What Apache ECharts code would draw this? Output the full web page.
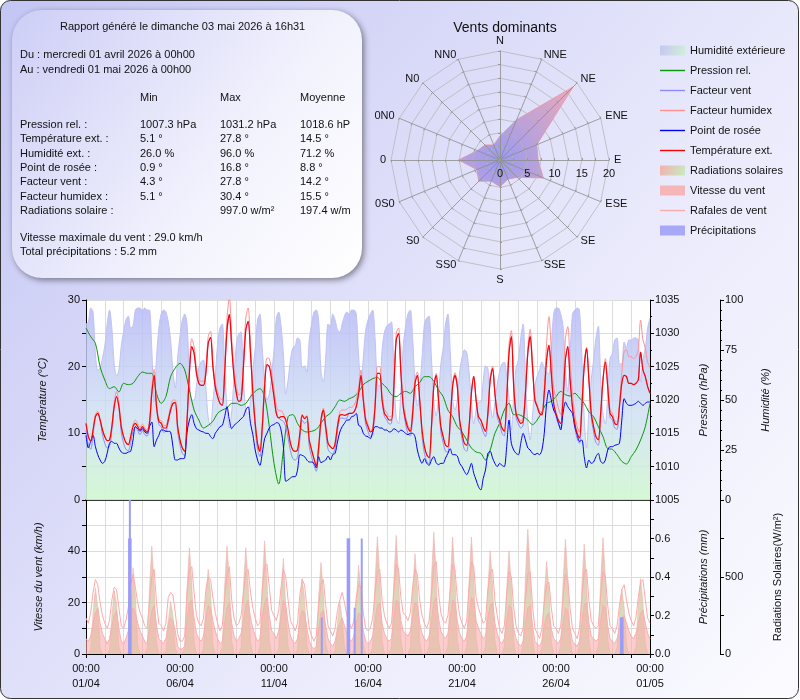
<!DOCTYPE html>
<html>
<head>
<meta charset="utf-8">
<script src="https://cdn.jsdelivr.net/npm/echarts/dist/echarts.min.js"></script>
<style>
html, body { margin: 0; padding: 0; background: #fff; }
#main { width: 800px; height: 700px; }
</style>
</head>
<body>
<div id="main"></div>
<script>
// relevés toutes les 3 h (pression toutes les 6 h), du 01/04 00h00 au 01/05 00h00
var STEP = 3;
var STEP_P = 6;

var temperature = [
  11.5,9.5,8.8,10.5,12.5,13.0,12.0,10.5,
  9.5,8.9,9.0,11.0,14.0,15.5,14.0,11.0,
  9.5,8.6,8.3,9.5,11.0,11.5,11.0,10.5,
  11.0,10.5,10.2,11.5,16.0,18.7,14.0,11.8,
  11.5,10.8,10.8,12.0,13.5,14.5,14.6,11.0,
  9.0,7.8,7.3,12.0,19.0,23.0,22.0,19.0,
  17.5,17.2,17.2,19.0,23.5,24.4,20.0,17.0,
  15.5,14.5,14.2,19.0,25.5,27.8,23.0,18.5,
  16.0,14.8,15.0,20.0,25.5,26.8,22.0,16.0,
  11.5,8.5,7.3,11.0,17.0,20.3,20.0,18.0,
  15.5,13.0,12.3,12.5,12.5,12.0,10.5,8.5,
  7.5,7.3,7.5,10.0,12.7,12.2,12.5,9.0,
  7.5,6.2,5.1,8.0,12.0,13.5,11.0,8.5,
  8.0,7.7,8.5,11.0,12.7,12.8,12.7,12.8,
  13.0,13.0,13.2,14.0,16.0,18.7,15.0,12.0,
  11.0,10.2,10.5,14.0,19.0,19.0,15.0,13.0,
  12.5,12.0,12.0,17.0,24.0,25.0,19.0,14.0,
  12.0,10.8,10.3,13.0,17.5,18.7,15.0,10.5,
  8.0,6.8,6.3,11.0,17.0,18.7,15.0,11.0,
  9.5,8.2,8.0,12.0,17.0,18.7,17.0,12.0,
  10.0,8.5,8.2,11.0,16.0,18.5,15.0,12.5,
  12.0,11.0,10.3,13.0,18.0,19.7,16.0,13.0,
  12.0,10.8,10.3,15.0,22.0,24.5,17.0,13.0,
  12.0,11.5,11.8,16.0,22.0,24.5,20.0,15.0,
  14.0,13.0,12.8,16.0,21.0,23.2,19.0,14.5,
  13.0,12.0,11.5,15.0,21.0,23.0,18.0,14.0,
  11.5,10.0,9.3,14.0,20.0,22.7,18.0,13.0,
  11.0,9.5,9.0,13.0,18.0,20.7,17.0,13.0,
  12.5,11.5,11.3,14.0,17.5,18.7,18.5,17.5,
  17.5,17.3,17.5,18.0,22.2,19.5,18.5,17.0,
  16.0
];

var humidex = [
  11.5,9.5,8.8,10.5,12.8,13.3,12.2,10.5,
  9.5,8.9,9.0,11.2,14.6,16.3,14.6,11.2,
  9.5,8.6,8.3,9.5,11.3,12.0,11.5,10.9,
  11.4,10.8,10.5,11.9,16.8,19.6,14.6,12.0,
  11.9,11.2,11.2,12.4,14.0,15.0,15.0,11.2,
  9.0,7.8,7.3,12.3,20.0,24.2,23.0,19.8,
  18.2,17.8,17.8,19.8,24.5,25.3,20.8,17.7,
  16.3,15.3,15.0,20.2,27.2,30.4,24.3,19.5,
  17.0,15.8,16.0,21.3,27.3,28.8,23.2,16.8,
  11.8,8.5,7.3,11.2,17.8,21.3,21.2,19.2,
  16.6,14.2,13.4,13.4,12.9,12.0,10.5,8.5,
  7.5,7.3,7.5,10.0,12.9,12.4,12.7,9.0,
  7.5,6.2,5.1,8.0,12.2,13.8,11.2,8.5,
  8.0,7.7,8.5,11.2,13.2,13.5,13.5,13.6,
  13.9,13.9,14.2,15.0,16.8,19.5,15.7,12.4,
  11.3,10.4,10.8,14.7,20.0,20.0,15.7,13.6,
  13.1,12.5,12.5,17.8,25.0,25.8,19.9,14.7,
  12.5,11.2,10.6,13.6,18.2,19.2,15.2,10.5,
  8.0,6.8,6.3,11.0,17.4,19.0,15.2,11.0,
  9.5,8.2,8.0,12.2,17.4,19.1,17.4,12.1,
  10.0,8.5,8.2,11.0,16.2,18.6,15.0,12.5,
  12.0,11.0,10.3,13.2,18.4,20.1,16.3,13.2,
  12.2,10.8,10.3,15.4,23.3,25.4,17.5,13.2,
  12.3,11.9,12.3,16.6,22.7,25.6,20.6,15.3,
  14.3,13.3,13.2,16.8,23.5,27.5,22.5,16.8,
  15.3,13.8,12.8,16.8,24.2,26.0,20.8,15.9,
  12.8,11.0,10.2,14.8,20.5,22.9,18.4,13.2,
  11.0,9.5,9.0,13.2,18.3,21.2,17.6,13.5,
  13.0,11.9,11.7,14.6,19.0,22.3,22.5,21.5,
  21.5,21.2,21.5,22.5,27.0,24.0,22.8,20.7,
  19.8
];

var windChill = [
  10.5,8.3,7.6,9.8,12.5,13.0,12.0,9.8,
  8.5,7.8,8.0,10.4,14.0,15.5,14.0,10.2,
  8.5,7.6,7.4,8.6,10.3,11.0,10.4,9.8,
  10.4,9.8,9.6,11.0,16.0,18.7,14.0,11.3,
  11.0,10.2,10.3,11.6,13.5,14.5,14.6,10.3,
  8.2,7.0,6.6,11.6,19.0,23.0,22.0,19.0,
  17.5,17.2,17.2,19.0,23.5,24.4,20.0,17.0,
  15.5,14.5,14.2,19.0,25.5,27.8,23.0,18.5,
  16.0,14.8,15.0,20.0,25.5,26.8,22.0,16.0,
  10.8,7.6,6.5,10.4,17.0,20.3,20.0,18.0,
  15.5,13.0,12.3,12.0,11.8,11.0,9.3,7.4,
  6.2,6.0,6.4,9.0,12.0,11.5,11.8,8.0,
  6.5,5.2,4.3,7.2,11.5,13.5,10.4,7.6,
  7.1,6.9,7.8,10.4,12.2,12.3,12.2,12.3,
  13.0,13.0,13.2,14.0,16.0,18.7,15.0,11.4,
  10.3,9.5,9.8,14.0,19.0,19.0,15.0,12.5,
  12.0,11.4,11.5,17.0,24.0,25.0,19.0,14.0,
  11.4,10.0,9.6,12.6,17.5,18.7,15.0,9.6,
  7.0,5.8,5.4,10.4,17.0,18.7,15.0,10.2,
  8.6,7.3,7.2,11.5,17.0,18.7,17.0,11.4,
  9.2,7.6,7.3,10.3,16.0,18.5,15.0,11.9,
  11.3,10.2,9.5,12.5,18.0,19.7,16.0,12.4,
  11.4,10.0,9.6,15.0,22.0,24.5,17.0,12.4,
  11.4,10.8,11.2,16.0,22.0,24.5,20.0,15.0,
  14.0,13.0,12.8,16.0,21.0,23.2,19.0,14.5,
  12.5,11.4,10.8,15.0,21.0,23.0,18.0,13.6,
  10.8,9.2,8.5,13.6,20.0,22.7,18.0,12.4,
  10.2,8.6,8.2,12.5,18.0,20.7,17.0,12.4,
  12.0,10.8,10.6,14.0,17.5,18.7,18.5,17.5,
  17.5,17.3,17.5,18.0,22.2,19.5,18.5,17.0,
  16.0
];

var dewPoint = [
  9.7,7.8,8.8,9.7,8.0,6.8,6.0,5.5,
  5.8,7.0,8.5,8.8,8.5,8.5,7.8,7.2,
  7.0,7.0,7.2,7.3,9.0,11.0,10.7,10.3,
  10.7,10.2,10.0,11.0,11.7,8.0,9.0,9.7,
  10.5,10.5,10.3,10.3,10.2,8.0,6.0,6.0,
  6.2,6.2,6.3,10.2,12.0,12.8,11.5,10.7,
  10.5,10.3,10.2,10.0,10.0,9.5,9.2,10.0,
  10.5,11.0,11.2,12.5,14.0,12.0,10.7,11.2,
  11.5,11.8,12.2,12.5,13.5,14.0,11.5,9.8,
  7.5,6.0,5.2,7.0,9.2,10.0,10.8,11.2,
  11.3,11.6,11.5,10.5,8.0,2.8,3.0,3.3,
  3.5,3.5,4.5,6.8,6.7,6.5,6.0,5.7,
  5.7,5.5,4.8,6.5,5.6,5.8,6.0,6.6,
  6.0,6.8,7.0,8.7,10.2,11.0,11.5,12.0,
  12.0,12.5,12.6,13.0,11.2,11.0,10.0,9.6,
  9.5,9.2,10.2,11.0,11.0,10.8,10.8,10.5,
  10.5,10.2,10.3,10.7,10.5,10.2,10.5,10.3,
  10.0,9.8,10.0,10.0,9.5,7.5,6.2,5.5,
  6.2,5.5,5.2,6.0,6.5,5.6,5.3,5.5,
  5.5,6.3,7.0,7.7,6.8,6.8,6.6,5.5,
  5.0,4.3,3.8,4.5,5.5,4.0,3.0,2.0,
  1.5,3.2,4.5,7.0,7.3,6.3,5.5,5.0,
  5.5,5.2,5.0,8.0,12.0,8.5,7.5,7.0,
  6.8,8.5,10.0,9.0,7.8,7.5,7.0,6.8,
  7.0,6.8,7.5,10.0,14.5,16.5,15.0,13.5,
  12.8,11.6,10.5,13.0,14.7,14.0,13.5,13.0,
  11.0,9.8,8.8,9.0,6.5,4.8,6.0,5.5,
  5.7,6.5,7.0,5.8,5.5,6.0,7.5,8.0,
  8.0,8.2,8.3,8.5,12.0,15.2,14.5,14.2,
  14.2,14.3,14.5,14.8,14.5,14.2,14.5,14.7,
  14.7
];

var humidity = [
  88,89,96,94,73,65,66,71,
  77,88,95,86,68,62,65,77,
  84,90,92,86,87,95,96,96,
  95,96,95,95,75,49,71,86,
  93,95,94,89,80,64,56,71,
  82,90,93,88,62,50,50,57,
  66,69,70,56,41,37,49,62,
  78,86,88,66,46,36,44,62,
  78,83,84,60,45,43,50,65,
  76,90,93,76,59,50,53,63,
  75,91,94,87,73,53,60,70,
  76,77,81,80,66,67,64,80,
  88,94,95,90,64,59,71,88,
  87,93,90,85,84,88,92,94,
  93,95,95,93,72,59,71,85,
  90,93,95,81,58,57,75,84,
  87,88,89,65,41,38,56,77,
  87,93,95,81,58,47,55,71,
  88,91,92,71,49,42,52,68,
  76,88,93,74,50,45,50,64,
  71,75,74,64,49,38,45,49,
  49,59,67,66,49,41,49,58,
  64,68,69,62,51,35,52,66,
  70,81,88,62,39,30,42,57,
  62,65,69,66,64,63,76,93,
  96,96,93,87,65,54,73,93,
  95,96,95,71,41,26,45,60,
  70,81,87,61,43,38,52,71,
  73,80,81,68,68,79,76,80,
  80,81,81,80,59,70,76,86,
  91
];

var pressure = [
  1030.8,1029.5,1028.5,1025.0,
  1023.0,1021.7,1022.0,1021.2,
  1022.5,1022.3,1022.5,1023.5,
  1024.2,1024.0,1024.0,1021.0,
  1019.5,1020.5,1023.5,1024.8,
  1025.5,1024.5,1021.5,1018.5,
  1017.0,1015.8,1016.2,1016.8,
  1018.0,1018.5,1018.8,1019.5,
  1019.5,1019.2,1019.5,1020.5,
  1021.3,1021.7,1020.5,1016.0,
  1010.5,1007.4,1012.5,1017.5,
  1017.8,1016.5,1015.5,1015.2,
  1015.3,1015.6,1016.5,1017.5,
  1018.0,1019.0,1020.0,1019.8,
  1020.2,1020.5,1021.2,1022.3,
  1022.8,1023.2,1023.4,1022.5,
  1021.8,1020.8,1020.5,1021.0,
  1021.3,1021.0,1022.0,1022.6,
  1023.5,1023.5,1022.8,1021.5,
  1020.5,1018.5,1017.5,1016.0,
  1015.2,1014.0,1012.8,1012.2,
  1012.0,1011.0,1012.5,1015.0,
  1016.5,1018.5,1019.5,1017.8,
  1017.8,1017.5,1017.0,1016.3,
  1017.0,1018.2,1019.5,1019.8,
  1020.5,1021.3,1020.8,1020.6,
  1021.0,1020.3,1019.5,1018.2,
  1017.5,1016.0,1014.5,1012.7,
  1012.6,1011.8,1010.8,1010.4,
  1011.5,1012.5,1014.0,1016.0,
  1019.5
];

var windSpeed = [
  6,5,7,12,16,18,12,8,
  6,4,6,11,15,17,10,5,
  4,6,9,14,18,16,12,9,
  7,5,4,10,17,19,11,6,
  5,4,6,12,14,13,9,3,
  2,2,3,13,20,21,14,8,
  6,5,7,14,19,18,13,9,
  6,4,5,12,18,20,12,7,
  5,6,8,13,19,21,14,10,
  7,5,6,14,20,22,15,9,
  8,6,9,15,21,19,12,7,
  5,4,6,13,17,16,10,5,
  3,2,3,10,16,17,11,6,
  4,3,5,9,12,14,11,8,
  6,5,7,12,16,15,9,5,
  4,5,7,13,19,20,12,8,
  6,5,6,14,21,20,13,9,
  8,7,9,15,20,19,12,8,
  6,5,7,13,20,22,14,9,
  7,6,8,14,21,20,13,8,
  6,5,7,15,22,21,13,10,
  8,6,7,14,19,20,12,8,
  5,4,6,13,19,18,10,6,
  4,3,5,12,18,19,11,5,
  4,3,5,11,15,16,10,6,
  5,4,6,12,18,17,10,5,
  4,3,5,12,19,20,12,7,
  6,5,6,13,19,18,11,6,
  5,4,6,10,14,15,12,9,
  7,6,8,12,16,17,12,8,
  6
];

var windGust = [
  14,12,16,24,29,27,20,15,
  12,10,13,21,26,25,18,11,
  10,13,18,27,31,26,20,16,
  14,11,10,20,30,33,20,12,
  11,9,12,22,24,23,16,8,
  5,5,7,24,33,34,24,15,
  12,11,14,25,30,29,22,16,
  12,9,11,22,31,34,21,14,
  11,12,15,24,32,33,24,18,
  14,11,12,25,34,35,26,17,
  15,13,17,26,33,30,21,13,
  11,9,12,23,29,27,18,10,
  7,5,7,19,27,29,19,11,
  9,7,10,17,21,24,20,15,
  12,10,13,22,27,26,16,10,
  9,10,14,24,32,33,21,15,
  12,10,12,25,35,33,22,16,
  15,13,16,26,33,31,21,15,
  12,10,13,23,34,36,24,16,
  13,12,15,25,35,33,22,15,
  12,10,13,26,36,34,22,18,
  15,12,13,25,32,33,21,15,
  10,8,11,23,32,30,18,11,
  8,7,10,22,31,32,19,10,
  8,6,10,20,27,28,18,11,
  10,8,11,22,31,29,18,10,
  8,6,10,22,32,33,21,13,
  11,10,11,23,32,30,19,11,
  10,8,11,19,25,27,21,16,
  13,11,14,22,28,29,21,14,
  12
];

var solar = [
  0,0,30,260,430,300,40,0,
  0,0,25,240,410,330,50,0,
  0,0,15,180,560,380,60,0,
  0,0,35,420,700,450,70,0,
  0,0,20,210,340,250,35,0,
  0,0,40,430,690,470,80,0,
  0,0,35,360,550,400,60,0,
  0,0,45,440,700,480,85,0,
  0,0,40,430,690,460,80,0,
  0,0,45,450,735,490,90,0,
  0,0,40,390,620,300,50,0,
  0,0,30,300,490,360,60,0,
  0,0,35,370,595,400,70,0,
  0,0,20,200,340,220,40,0,
  0,0,30,330,575,390,65,0,
  0,0,50,470,760,500,90,0,
  0,0,50,480,770,510,95,0,
  0,0,45,400,650,430,80,0,
  0,0,55,490,790,520,95,0,
  0,0,50,470,760,500,95,0,
  0,0,55,460,760,510,100,0,
  0,0,50,420,670,450,90,0,
  0,0,50,410,670,440,85,0,
  0,0,60,500,810,540,100,0,
  0,0,45,380,600,420,80,0,
  0,0,55,460,745,490,95,0,
  0,0,55,440,715,480,95,0,
  0,0,60,470,755,500,100,0,
  0,0,40,260,420,300,60,0,
  0,0,45,310,490,330,70,0,
  0
];

var rainHours = [55, 56, 57, 301, 334, 335, 336, 343, 352, 683, 684, 685];
var rainMm = [0.6, 0.8, 0.6, 0.19, 0.6, 0.6, 0.6, 0.24, 0.6, 0.19, 0.19, 0.19];

var windDirs = ['N','NNE','NE','ENE','E','ESE','SE','SSE','S','SS0','S0','0S0','0','0N0','N0','NN0'];
var windFreq = [4.4, 8.0, 19.0, 7.3, 7.0, 8.6, 4.5, 3.8, 4.9, 4.2, 5.5, 4.6, 7.6, 4.5, 3.9, 3.0];

var statLabels = ['Pression rel. :', 'Température ext. :', 'Humidité ext. :', 'Point de rosée :', 'Facteur vent :', 'Facteur humidex :', 'Radiations solaire :'];
var statMin = ['1007.3 hPa', '5.1 °', '26.0 %', '0.9 °', '4.3 °', '5.1 °', ''];
var statMax = ['1031.2 hPa', '27.8 °', '96.0 %', '16.8 °', '27.8 °', '30.4 °', '997.0 w/m²'];
var statMean = ['1018.6 hPa', '14.5 °', '71.2 %', '8.8 °', '14.2 °', '15.5 °', '197.4 w/m²'];

var FONT = '"Liberation Sans", Arial, sans-serif';
var TXT = '#111';
var LINE_ICON = 'path://M0,0 H25 V1.4 H0 Z';

function pairs(arr, step) {
  return arr.map(function (v, i) { return [i * step, v]; });
}
function pad(n) { return (n < 10 ? '0' : '') + n; }
function dateLabel(h) {
  var d = new Date(Date.UTC(2026, 3, 1) + h * 3600000);
  return pad(d.getUTCHours()) + ':' + pad(d.getUTCMinutes()) + '\n' + pad(d.getUTCDate()) + '/' + pad(d.getUTCMonth() + 1);
}

// radar tourne dans le sens anti-horaire : on inverse l'ordre apres N
var order = [0];
for (var k = windDirs.length - 1; k >= 1; k--) order.push(k);
var indicators = order.map(function (k) {
  return { name: windDirs[k], min: 0, max: 20, axisLabel: { show: windDirs[k] === 'E' } };
});
var radarValues = order.map(function (k) { return windFreq[k]; });

var LG = echarts.graphic.LinearGradient;
var humGrad = new LG(0, 0, 0, 1, [
  { offset: 0, color: 'rgba(184,186,246,0.85)' },
  { offset: 0.55, color: 'rgba(205,222,242,0.8)' },
  { offset: 1, color: 'rgba(208,248,208,0.9)' }
]);
var humSwatch = new LG(0, 0, 1, 1, [
  { offset: 0, color: '#c4c6f4' }, { offset: 1, color: '#d2f0d8' }
]);
var solarGrad = new LG(0, 0, 0, 1, [
  { offset: 0, color: 'rgba(240,160,160,0.75)' },
  { offset: 1, color: 'rgba(185,232,165,0.75)' }
]);
var solarSwatch = new LG(0, 0, 1, 1, [
  { offset: 0, color: '#f2b0b0' }, { offset: 1, color: '#c8ecc0' }
]);

var texts = [];
function addText(x, y, s, extra) {
  var st = { text: s, fill: TXT, font: '11px ' + FONT, verticalAlign: 'middle' };
  if (extra) for (var key in extra) st[key] = extra[key];
  texts.push({ type: 'text', x: x, y: y, z: 5, silent: true, style: st });
}
addText(60, 27, 'Rapport généré le dimanche 03 mai 2026 à 16h31');
addText(20, 55, 'Du : mercredi 01 avril 2026 à 00h00');
addText(20, 70, 'Au : vendredi 01 mai 2026 à 00h00');
addText(140, 98, 'Min');
addText(220, 98, 'Max');
addText(300, 98, 'Moyenne');
statLabels.forEach(function (lab, i) {
  var y = 125 + i * 14.3;
  addText(20, y, lab);
  addText(140, y, statMin[i]);
  addText(220, y, statMax[i]);
  addText(300, y, statMean[i], { width: 53, overflow: 'truncate', ellipsis: '' });
});
addText(20, 238, 'Vitesse maximale du vent : 29.0 km/h');
addText(20, 252, 'Total précipitations : 5.2 mm');

var chart = echarts.init(document.getElementById('main'));

var axisName = { color: TXT, fontSize: 11, fontStyle: 'italic', fontFamily: FONT };
var blackLine = { show: true, lineStyle: { color: '#000', width: 1 } };
var gridLine = { show: true, lineStyle: { color: '#dcdcdc', width: 1 } };

function lineLegend(name, color) {
  return { name: name, icon: LINE_ICON, itemStyle: { color: color } };
}

var option = {
  animation: false,
  backgroundColor: '#fff',
  textStyle: { fontFamily: FONT },
  title: {
    text: 'Vents dominants', left: 500, top: 16, textAlign: 'center',
    textStyle: { fontSize: 14, fontWeight: 'normal', color: TXT, fontFamily: FONT }
  },
  graphic: [
    {
      type: 'rect', z: -20, silent: true,
      shape: { x: 0.5, y: 0.5, width: 798, height: 698, r: 10 },
      style: {
        fill: new LG(0, 0, 1, 1, [{ offset: 0, color: '#c3c5f3' }, { offset: 0.6, color: '#eaeafc' }, { offset: 1, color: '#fbfbff' }]),
        stroke: '#333', lineWidth: 1
      }
    },
    {
      type: 'rect', z: -10, silent: true,
      shape: { x: 12, y: 10, width: 350, height: 268, r: 30 },
      style: {
        fill: new LG(0, 0, 1, 1, [{ offset: 0, color: '#cdcef6' }, { offset: 0.6, color: '#f2f2fd' }, { offset: 1, color: '#ffffff' }]),
        shadowBlur: 6, shadowColor: 'rgba(0,0,0,0.45)', shadowOffsetX: 2, shadowOffsetY: 2
      }
    }
  ].concat(texts),
  legend: {
    orient: 'vertical', left: 655, top: 40,
    itemWidth: 25, itemHeight: 10, itemGap: 9,
    textStyle: { color: TXT, fontSize: 11, fontFamily: FONT },
    data: [
      { name: 'Humidité extérieure', icon: 'rect', itemStyle: { color: humSwatch } },
      lineLegend('Pression rel.', '#0a960a'),
      lineLegend('Facteur vent', '#8c8cff'),
      lineLegend('Facteur humidex', '#ff9090'),
      lineLegend('Point de rosée', '#0000ff'),
      lineLegend('Température ext.', '#ff0000'),
      { name: 'Radiations solaires', icon: 'rect', itemStyle: { color: solarSwatch } },
      { name: 'Vitesse du vent', icon: 'rect', itemStyle: { color: '#f4b6b6' } },
      lineLegend('Rafales de vent', '#ffaaaa'),
      { name: 'Précipitations', icon: 'rect', itemStyle: { color: '#a8a8f8' } }
    ]
  },
  radar: {
    z: 3,
    center: [500, 160], radius: 109, startAngle: 90, splitNumber: 8, shape: 'polygon',
    nameGap: 5,
    axisName: { color: TXT, fontSize: 11, fontFamily: FONT },
    axisLine: { lineStyle: { color: 'rgba(140,140,140,0.8)' } },
    splitLine: { lineStyle: { color: 'rgba(180,180,180,0.75)' } },
    splitArea: { show: false },
    axisTick: { show: true, length: 2, lineStyle: { color: '#999' } },
    axisLabel: {
      show: false, color: TXT, fontSize: 11, fontFamily: FONT, margin: -19,
      formatter: function (v) { return v % 5 === 0 ? String(v) : ''; }
    },
    indicator: indicators
  },
  grid: [
    { left: 86, top: 300, width: 564, height: 200, show: true, backgroundColor: '#fff', borderWidth: 0, containLabel: false, outerBoundsMode: 'none' },
    { left: 86, top: 500, width: 564, height: 154, show: true, backgroundColor: '#fff', borderWidth: 0, containLabel: false, outerBoundsMode: 'none' }
  ],
  xAxis: [
    {
      type: 'value', gridIndex: 0, min: 0, max: 720, interval: 24,
      axisLine: { show: true, onZero: false, lineStyle: { color: '#000', width: 1.5 } },
      axisTick: { show: false }, axisLabel: { show: false },
      splitLine: gridLine
    },
    {
      type: 'value', gridIndex: 1, min: 0, max: 720, interval: 24,
      axisLine: { show: true, onZero: false, lineStyle: { color: '#000', width: 1 } },
      axisTick: { show: true, length: 4, lineStyle: { color: '#000' } },
      axisLabel: {
        color: TXT, fontSize: 11, fontFamily: FONT, margin: 7, lineHeight: 15, hideOverlap: false,
        formatter: function (v) { return v % 120 === 0 ? dateLabel(v) : ''; }
      },
      splitLine: gridLine
    }
  ],
  yAxis: [
    {
      type: 'value', gridIndex: 0, position: 'left', min: 0, max: 30, interval: 5,
      name: 'Température (°C)', nameLocation: 'middle', nameGap: 38, nameRotate: 90, nameTextStyle: axisName,
      axisLine: blackLine, axisTick: { show: true, length: 4, lineStyle: { color: '#000' } },
      axisLabel: { color: TXT, fontSize: 11, fontFamily: FONT, margin: 6, formatter: function (v) { return v % 10 === 0 ? String(v) : ''; } },
      splitLine: gridLine
    },
    {
      type: 'value', gridIndex: 0, position: 'right', min: 1005, max: 1035, interval: 5,
      name: 'Pression (hPa)', nameLocation: 'middle', nameGap: 48, nameRotate: 90, nameTextStyle: axisName,
      axisLine: blackLine, axisTick: { show: true, length: 4, lineStyle: { color: '#000' } },
      minorTick: { show: true, splitNumber: 2, length: 2, lineStyle: { color: '#000' } },
      axisLabel: { color: TXT, fontSize: 11, fontFamily: FONT, margin: 5, formatter: function (v) { return String(v); } },
      splitLine: { show: false }
    },
    {
      type: 'value', gridIndex: 0, position: 'right', offset: 70, min: 0, max: 100, interval: 25,
      name: 'Humidité (%)', nameLocation: 'middle', nameGap: 40, nameRotate: 90, nameTextStyle: axisName,
      axisLine: blackLine, axisTick: { show: true, length: 4, lineStyle: { color: '#000' } },
      minorTick: { show: true, splitNumber: 5, length: 2, lineStyle: { color: '#000' } },
      axisLabel: { color: TXT, fontSize: 11, fontFamily: FONT, margin: 5 },
      splitLine: { show: false }
    },
    {
      type: 'value', gridIndex: 1, position: 'left', min: 0, max: 60, interval: 10,
      name: 'Vitesse du vent (km/h)', nameLocation: 'middle', nameGap: 42, nameRotate: 90, nameTextStyle: axisName,
      axisLine: blackLine, axisTick: { show: true, length: 4, lineStyle: { color: '#000' } },
      axisLabel: { color: TXT, fontSize: 11, fontFamily: FONT, margin: 6, formatter: function (v) { return (v % 20 === 0 && v < 60) ? String(v) : ''; } },
      splitLine: gridLine
    },
    {
      type: 'value', gridIndex: 1, position: 'right', min: 0, max: 0.8, interval: 0.1,
      name: 'Précipitations (mm)', nameLocation: 'middle', nameGap: 48, nameRotate: 90, nameTextStyle: axisName,
      axisLine: blackLine, axisTick: { show: true, length: 4, lineStyle: { color: '#000' } },
      axisLabel: {
        color: TXT, fontSize: 11, fontFamily: FONT, margin: 5,
        formatter: function (v) { var t = Math.round(v * 10); return (t % 2 === 0 && t < 8) ? (t / 10).toFixed(1) : ''; }
      },
      splitLine: { show: false }
    },
    {
      type: 'value', gridIndex: 1, position: 'right', offset: 70, min: 0, max: 1000, interval: 250,
      name: 'Radiations Solaires(W/m²)', nameLocation: 'middle', nameGap: 52, nameRotate: 90,
      nameTextStyle: { color: TXT, fontSize: 11, fontFamily: FONT },
      axisLine: blackLine, axisTick: { show: true, length: 4, lineStyle: { color: '#000' } },
      axisLabel: { color: TXT, fontSize: 11, fontFamily: FONT, margin: 5, formatter: function (v) { return (v % 500 === 0 && v < 1000) ? String(v) : ''; } },
      splitLine: { show: false }
    }
  ],
  series: [
    {
      name: 'Humidité extérieure', type: 'line', xAxisIndex: 0, yAxisIndex: 2, z: 1,
      data: pairs(humidity, STEP), symbol: 'none', smooth: 0.3,
      itemStyle: { color: '#c0c2f4' },
      lineStyle: { color: '#c0c2f4', width: 1 },
      areaStyle: { color: humGrad, opacity: 1 }
    },
    {
      name: 'Pression rel.', type: 'line', xAxisIndex: 0, yAxisIndex: 1, z: 3,
      data: pairs(pressure, STEP_P), symbol: 'none', smooth: 0.3,
      itemStyle: { color: '#0a960a' }, lineStyle: { color: '#0a960a', width: 1 }
    },
    {
      name: 'Facteur vent', type: 'line', xAxisIndex: 0, yAxisIndex: 0, z: 3,
      data: pairs(windChill, STEP), symbol: 'none', smooth: 0.3,
      itemStyle: { color: '#8c8cff' }, lineStyle: { color: '#8c8cff', width: 1 }
    },
    {
      name: 'Facteur humidex', type: 'line', xAxisIndex: 0, yAxisIndex: 0, z: 3,
      data: pairs(humidex, STEP), symbol: 'none', smooth: 0.3,
      itemStyle: { color: '#ff9090' }, lineStyle: { color: '#ff9090', width: 1 }
    },
    {
      name: 'Point de rosée', type: 'line', xAxisIndex: 0, yAxisIndex: 0, z: 4,
      data: pairs(dewPoint, STEP), symbol: 'none', smooth: 0.3,
      itemStyle: { color: '#0000ff' }, lineStyle: { color: '#0000ff', width: 1 }
    },
    {
      name: 'Température ext.', type: 'line', xAxisIndex: 0, yAxisIndex: 0, z: 5,
      data: pairs(temperature, STEP), symbol: 'none', smooth: 0.3,
      itemStyle: { color: '#ff0000' }, lineStyle: { color: '#ff0000', width: 1.2 }
    },
    {
      name: 'Radiations solaires', type: 'line', xAxisIndex: 1, yAxisIndex: 5, z: 1,
      data: pairs(solar, STEP), symbol: 'none',
      itemStyle: { color: '#e8b0a8' }, lineStyle: { color: '#f0b4b0', width: 0.6 },
      areaStyle: { color: solarGrad, opacity: 1 }
    },
    {
      name: 'Vitesse du vent', type: 'line', xAxisIndex: 1, yAxisIndex: 3, z: 2,
      data: pairs(windSpeed, STEP), symbol: 'none',
      itemStyle: { color: '#f4b6b6' }, lineStyle: { color: '#f8b0b0', width: 1 },
      areaStyle: { color: 'rgba(250,172,172,0.6)', opacity: 1 }
    },
    {
      name: 'Rafales de vent', type: 'line', xAxisIndex: 1, yAxisIndex: 3, z: 3,
      data: pairs(windGust, STEP), symbol: 'none',
      itemStyle: { color: '#ffaaaa' }, lineStyle: { color: '#ffaaaa', width: 1 }
    },
    {
      name: 'Précipitations', type: 'bar', xAxisIndex: 1, yAxisIndex: 4, z: 4,
      data: rainHours.map(function (h, i) { return [h, rainMm[i]]; }),
      barWidth: 2, itemStyle: { color: '#9c9cf8' }
    },
    {
      name: 'Vents dominants', type: 'radar', radarIndex: 0, symbol: 'none', z: 2,
      lineStyle: { color: '#f2a0a4', width: 1 },
      areaStyle: {
        opacity: 1,
        color: new echarts.graphic.RadialGradient(500, 160, 115, [
          { offset: 0, color: 'rgba(150,152,240,0.95)' },
          { offset: 1, color: 'rgba(246,160,170,0.85)' }
        ], true)
      },
      data: [{ value: radarValues, name: 'Vents dominants' }]
    }
  ]
};

chart.setOption(option);
</script>
</body>
</html>
